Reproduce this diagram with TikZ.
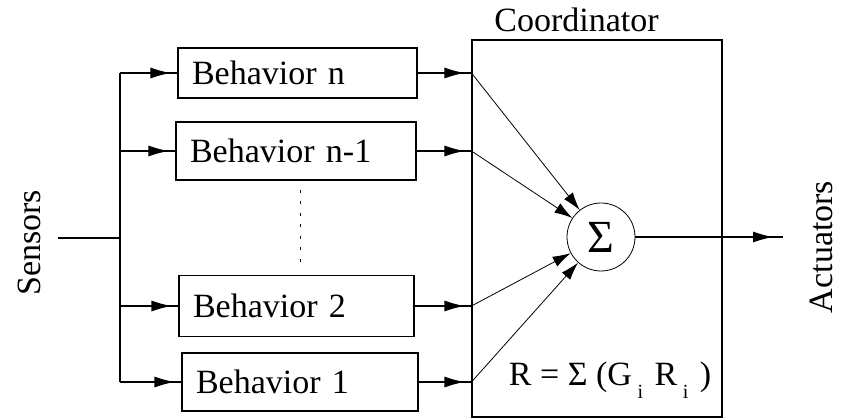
\documentclass[tikz,border=0pt]{standalone}
\usepackage{fontspec}
\setmainfont{Liberation Serif}
\usetikzlibrary{arrows.meta,decorations.markings}
\newcommand\subi{\raisebox{-0.4em}{\fontsize{20}{20}\selectfont i}}
\begin{document}
\begin{tikzpicture}[x=1pt,y=-1pt,
  font=\fontsize{34}{40}\selectfont,
  arr/.tip={Latex[length=20pt,width=11pt]},
  conn/.style={line width=1.1pt},
  diag/.style={line width=0.8pt,-{Latex[length=18pt,width=11pt]}},
  midarrow/.style={conn,postaction={decorate},decoration={markings,mark=at position #1 with {\arrow{arr}}}},
  midarrow/.default=-7pt,
  behbox/.style={draw,line width=1.1pt,inner xsep=14pt,inner ysep=0pt,align=left,anchor=center}
]
\useasboundingbox (0,0) rectangle (842,419);

% behaviour boxes
\node[behbox,minimum width=239pt,minimum height=50pt,text width=211pt] (bn) at (297.5,73) {Behavior n};
\node[behbox,minimum width=240pt,minimum height=58pt,text width=212pt] (bn1) at (296,151) {Behavior n-1};
\node[behbox,minimum width=235pt,minimum height=61pt,text width=207pt] (b2) at (296.5,306) {Behavior 2};
\node[behbox,minimum width=236pt,minimum height=58pt,text width=208pt] (b1) at (300,382) {Behavior 1};

% coordinator
\node[draw,line width=1.1pt,minimum width=250pt,minimum height=377pt,inner sep=0pt] (coord) at (597,228.5) {};
\node[anchor=base,inner sep=0pt] (coordlbl) at (576.5,32) {Coordinator};
\node[draw,circle,line width=0.8pt,minimum size=68pt,inner sep=0pt,font=\fontsize{46}{46}\selectfont] (sigma) at (601,237) {Σ};
\node[anchor=base,inner sep=0pt] (formula) at (610,385) {R = Σ (G\,\subi\,\,R\,\subi\,\,)};

% sensors side
\node[rotate=90,inner sep=0pt] (sensors) at (29,243) {Sensors};
\coordinate (sin) at (58,238);
\coordinate (bj) at (120,238);
\draw[conn] (sin) -- (bj);
\draw[conn] (bn.west -| bj) -- (b1.west -| bj);
\foreach \b in {bn,bn1,b2,b1}{
  \draw[midarrow] (\b.west -| bj) -- (\b.west);
}

% dotted
\coordinate (d1) at (300,190);
\coordinate (d2) at (300,262);
\draw[line width=1pt,dash pattern=on 3pt off 8.5pt] (d1) -- (d2);

% to coordinator
\foreach \b in {bn,bn1,b2,b1}{
  \coordinate (c\b) at (\b.east -| coord.west);
  \draw[midarrow] (\b.east) -- (c\b);
  \draw[diag] (c\b) -- (sigma);
}

% actuators
\coordinate (act) at (783,237);
\draw[midarrow=-10pt] (sigma) -- (act);
\node[rotate=90,inner sep=0pt] (actuators) at (821.5,247) {Actuators};
\end{tikzpicture}
\end{document}
